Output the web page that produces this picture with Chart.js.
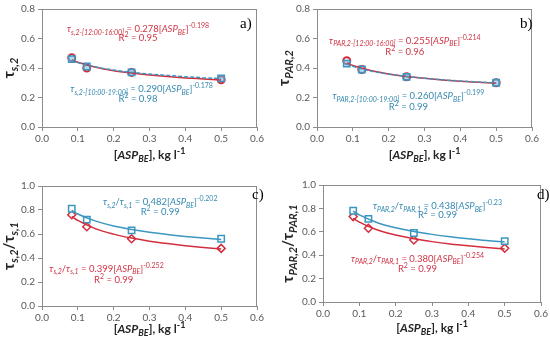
<!DOCTYPE html>
<html>
<head>
<meta charset="utf-8">
<script src="https://cdn.jsdelivr.net/npm/chart.js@4.4.0/dist/chart.umd.min.js"></script>
<style>
  body { margin: 0; background: #fff; }
  #wrap { position: relative; width: 550px; height: 339px; }
  .pane { position: absolute; }
</style>
</head>
<body>
<div id="wrap">
  <div class="pane" style="left:0;top:0;width:275px;height:170px"><canvas id="chA"></canvas></div>
  <div class="pane" style="left:275px;top:0;width:275px;height:170px"><canvas id="chB"></canvas></div>
  <div class="pane" style="left:0;top:170px;width:275px;height:169px"><canvas id="chC"></canvas></div>
  <div class="pane" style="left:275px;top:170px;width:275px;height:169px"><canvas id="chD"></canvas></div>
</div>
<script>
// measured points, ASP_BE in kg/l
var aspBE = [0.083, 0.125, 0.25, 0.5];
var aBlue = [0.46, 0.41, 0.37, 0.33];
var aRed = [0.47, 0.40, 0.37, 0.32];
var bBlue = [0.43, 0.39, 0.34, 0.30];
var bRed = [0.45, 0.39, 0.34, 0.30];
var cBlue = [0.81, 0.72, 0.63, 0.56];
var cRed = [0.76, 0.66, 0.56, 0.48];
var dBlue = [0.78, 0.71, 0.59, 0.52];
var dRed = [0.73, 0.63, 0.53, 0.46];

// fitted curves
var fitX = [0.083, 0.1, 0.15, 0.2, 0.25, 0.3, 0.35, 0.4, 0.45, 0.5];
var aRedFit = [0.455, 0.439, 0.405, 0.382, 0.366, 0.353, 0.342, 0.333, 0.326, 0.319];
var aBlueFit = [0.452, 0.437, 0.407, 0.386, 0.371, 0.359, 0.350, 0.341, 0.334, 0.328];
var bRedFit = [0.434, 0.417, 0.383, 0.360, 0.343, 0.330, 0.319, 0.310, 0.303, 0.296];
var bBlueFit = [0.427, 0.411, 0.379, 0.358, 0.343, 0.330, 0.320, 0.312, 0.305, 0.298];
var cBlueFit = [0.797, 0.767, 0.707, 0.667, 0.638, 0.615, 0.596, 0.580, 0.566, 0.554];
var cRedFit = [0.747, 0.713, 0.643, 0.599, 0.566, 0.540, 0.520, 0.503, 0.488, 0.475];
var dBlueFit = [0.776, 0.744, 0.678, 0.634, 0.602, 0.578, 0.558, 0.541, 0.526, 0.514];
var dRedFit = [0.715, 0.682, 0.615, 0.572, 0.540, 0.516, 0.496, 0.480, 0.466, 0.453];

var xTicks = [0, 0.1, 0.2, 0.3, 0.4, 0.5, 0.6];

var RED = '#d22e3e';
var BLUE = '#3b96c0';
var RED_TXT = '#cf3444';
var BLUE_TXT = '#3589b0';
var FONT = 'Lato, "Open Sans", sans-serif';

function pts(xs, ys) {
    return xs.map(function(x, i) { return { x: x, y: ys[i] }; });
}

// pieces of text: [text, kind]; kind = n / i / b / bi, with sub or sup at the end
function partFont(kind, size, weight) {
    var s = size;
    if (kind.indexOf('sub') >= 0 || kind.indexOf('sup') >= 0) s = Math.round(size * 0.72);
    var it = /^b?i/.test(kind) ? 'italic ' : '';
    return it + weight + ' ' + s + 'px ' + FONT;
}

function richWidth(ctx, parts, size, weight) {
    var w = 0;
    parts.forEach(function(p) {
        ctx.font = partFont(p[1], size, weight);
        w += ctx.measureText(p[0]).width;
    });
    return w;
}

function drawRich(ctx, parts, x, y, size, weight, color) {
    var w = richWidth(ctx, parts, size, weight);
    var cx = x - w / 2;
    ctx.fillStyle = color;
    ctx.textBaseline = 'alphabetic';
    ctx.textAlign = 'left';
    parts.forEach(function(p) {
        ctx.font = partFont(p[1], size, weight);
        var dy = 0;
        if (p[1].indexOf('sub') >= 0) dy = size * 0.28;
        if (p[1].indexOf('sup') >= 0) dy = -size * 0.42;
        ctx.fillText(p[0], cx, y + dy);
        cx += ctx.measureText(p[0]).width;
    });
}

var richPlugin = {
    id: 'rich',
    afterDraw: function(chart) {
        var o = chart.options.plugins.rich;
        var ctx = chart.ctx;
        var a = chart.chartArea;
        var sx = chart.scales.x, sy = chart.scales.y;
        ctx.save();
        // box around the plot
        ctx.strokeStyle = '#8c8c8c';
        ctx.lineWidth = 1;
        ctx.strokeRect(Math.round(a.left) + 0.5, Math.round(a.top) + 0.5, Math.round(a.right - a.left) - 1, Math.round(a.bottom - a.top));
        // equations
        o.notes.forEach(function(n) {
            drawRich(ctx, n.parts, sx.getPixelForValue(n.x), sy.getPixelForValue(n.y), 9.5, 'normal', n.color);
        });
        // x title
        var xt = [['[', 'n'], ['ASP', 'i'], ['BE', 'isub'], ['], kg l', 'n'], ['-1', 'sup']];
        drawRich(ctx, xt, (a.left + a.right) / 2, o.xTitleY, 12, 'bold', '#262626');
        // y title rotated
        ctx.save();
        ctx.translate(o.yTitleX, (a.top + a.bottom) / 2);
        ctx.rotate(-Math.PI / 2);
        drawRich(ctx, o.yTitle, 0, 0, 15, 'bold', '#262626');
        ctx.restore();
        // panel letter
        ctx.font = '15px "Liberation Serif", serif';
        ctx.fillStyle = '#000';
        ctx.textAlign = 'left';
        ctx.textBaseline = 'middle';
        ctx.fillText(o.letter, o.letterX, o.letterY);
        ctx.restore();
    }
};

function makePanel(id, opt) {
    var redStyle = opt.redMarker;
    new Chart(document.getElementById(id), {
        type: 'scatter',
        plugins: [richPlugin],
        data: {
            datasets: [{
                data: pts(fitX, opt.blueFit),
                showLine: true,
                borderColor: BLUE,
                borderWidth: 1.5,
                borderDash: opt.blueDash,
                pointRadius: 0,
                tension: 0.4,
                cubicInterpolationMode: 'monotone'
            }, {
                data: pts(fitX, opt.redFit),
                showLine: true,
                borderColor: RED,
                borderWidth: 1.5,
                pointRadius: 0,
                tension: 0.4,
                cubicInterpolationMode: 'monotone'
            }, {
                data: pts(aspBE, opt.blue),
                pointStyle: 'rect',
                pointRadius: 4.5,
                pointBorderWidth: 1.5,
                borderColor: BLUE,
                backgroundColor: opt.blueFill
            }, {
                data: pts(aspBE, opt.red),
                pointStyle: redStyle,
                pointRadius: redStyle === 'circle' ? 3.5 : 4,
                pointBorderWidth: redStyle === 'circle' ? 2 : 1.5,
                borderColor: RED,
                backgroundColor: 'rgba(255,255,255,0.9)'
            }]
        },
        options: {
            responsive: true,
            maintainAspectRatio: false,
            animation: false,
            events: [],
            layout: { padding: { top: opt.padTop, right: opt.padRight } },
            plugins: {
                legend: { display: false },
                tooltip: { enabled: false },
                rich: opt
            },
            scales: {
                x: {
                    type: 'linear',
                    min: 0,
                    max: 0.6,
                    afterBuildTicks: function(s) {
                        s.ticks = xTicks.map(function(v) { return { value: v }; });
                    },
                    afterFit: function(s) { s.height = opt.xHeight; },
                    grid: { drawOnChartArea: false, drawTicks: true, tickLength: 4, color: '#8c8c8c' },
                    border: { display: true, color: '#8c8c8c' },
                    ticks: {
                        color: '#595959',
                        font: { family: FONT, size: 10 },
                        padding: 2,
                        maxRotation: 0,
                        callback: function(v) { return Number(v).toFixed(1); }
                    }
                },
                y: {
                    min: 0,
                    max: opt.yMax,
                    afterFit: function(s) { s.width = opt.yWidth; },
                    grid: { drawOnChartArea: false, drawTicks: true, tickLength: 4, color: '#8c8c8c' },
                    border: { display: true, color: '#8c8c8c' },
                    ticks: {
                        stepSize: 0.2,
                        color: '#595959',
                        font: { family: FONT, size: 10 },
                        padding: 3,
                        callback: function(v) { return Number(v).toFixed(1); }
                    }
                }
            }
        }
    });
}

makePanel('chA', {
    blue: aBlue, red: aRed, blueFit: aBlueFit, redFit: aRedFit,
    redMarker: 'circle', blueDash: [4, 2], blueFill: 'rgba(120,190,225,0.55)',
    yMax: 0.8, yWidth: 42, xHeight: 43, padTop: 7, padRight: 18,
    xTitleY: 159, yTitleX: 14, letter: 'a)', letterX: 240, letterY: 24,
    yTitle: [['τ', 'b'], ['s,2', 'bisub']],
    notes: [
        { x: 0.268, y: 0.645, color: RED_TXT, parts: [['τ', 'i'], ['s,2-[12:00-16:00]', 'isub'], [' = 0.278[', 'n'], ['ASP', 'i'], ['BE', 'isub'], [']', 'n'], ['-0.198', 'sup']] },
        { x: 0.268, y: 0.585, color: RED_TXT, parts: [['R', 'n'], ['2', 'sup'], [' = 0.95', 'n']] },
        { x: 0.278, y: 0.235, color: BLUE_TXT, parts: [['τ', 'i'], ['s,2-[10:00-19:00]', 'isub'], [' = 0.290[', 'n'], ['ASP', 'i'], ['BE', 'isub'], [']', 'n'], ['-0.178', 'sup']] },
        { x: 0.268, y: 0.17, color: BLUE_TXT, parts: [['R', 'n'], ['2', 'sup'], [' = 0.98', 'n']] }
    ]
});

makePanel('chB', {
    blue: bBlue, red: bRed, blueFit: bBlueFit, redFit: bRedFit,
    redMarker: 'circle', blueDash: [4, 2], blueFill: 'rgba(120,190,225,0.55)',
    yMax: 0.8, yWidth: 42, xHeight: 43, padTop: 7, padRight: 18,
    xTitleY: 159, yTitleX: 14, letter: 'b)', letterX: 245, letterY: 24,
    yTitle: [['τ', 'b'], ['PAR,2', 'bisub']],
    notes: [
        { x: 0.245, y: 0.565, color: RED_TXT, parts: [['τ', 'i'], ['PAR,2-[12:00-16:00]', 'isub'], [' = 0.255[', 'n'], ['ASP', 'i'], ['BE', 'isub'], [']', 'n'], ['-0.214', 'sup']] },
        { x: 0.245, y: 0.49, color: RED_TXT, parts: [['R', 'n'], ['2', 'sup'], [' = 0.96', 'n']] },
        { x: 0.255, y: 0.19, color: BLUE_TXT, parts: [['τ', 'i'], ['PAR,2-[10:00-19:00]', 'isub'], [' = 0.260[', 'n'], ['ASP', 'i'], ['BE', 'isub'], [']', 'n'], ['-0.199', 'sup']] },
        { x: 0.255, y: 0.115, color: BLUE_TXT, parts: [['R', 'n'], ['2', 'sup'], [' = 0.99', 'n']] }
    ]
});

makePanel('chC', {
    blue: cBlue, red: cRed, blueFit: cBlueFit, redFit: cRedFit,
    redMarker: 'rectRot', blueDash: [], blueFill: 'rgba(255,255,255,0.9)',
    yMax: 1.0, yWidth: 42, xHeight: 33, padTop: 16, padRight: 18,
    xTitleY: 163, yTitleX: 14, letter: 'c)', letterX: 252, letterY: 25,
    yTitle: [['τ', 'b'], ['s,2', 'bisub'], ['/τ', 'b'], ['s,1', 'bisub']],
    notes: [
        { x: 0.33, y: 0.84, color: BLUE_TXT, parts: [['τ', 'i'], ['s,2', 'isub'], ['/', 'n'], ['τ', 'i'], ['s,1', 'isub'], [' = 0.482[', 'n'], ['ASP', 'i'], ['BE', 'isub'], [']', 'n'], ['-0.202', 'sup']] },
        { x: 0.33, y: 0.755, color: BLUE_TXT, parts: [['R', 'n'], ['2', 'sup'], [' = 0.99', 'n']] },
        { x: 0.18, y: 0.285, color: RED_TXT, parts: [['τ', 'i'], ['s,2', 'isub'], ['/', 'n'], ['τ', 'i'], ['s,1', 'isub'], [' = 0.399[', 'n'], ['ASP', 'i'], ['BE', 'isub'], [']', 'n'], ['-0.252', 'sup']] },
        { x: 0.2, y: 0.195, color: RED_TXT, parts: [['R', 'n'], ['2', 'sup'], [' = 0.99', 'n']] }
    ]
});

makePanel('chD', {
    blue: dBlue, red: dRed, blueFit: dBlueFit, redFit: dRedFit,
    redMarker: 'rectRot', blueDash: [], blueFill: 'rgba(255,255,255,0.9)',
    yMax: 1.0, yWidth: 48, xHeight: 37, padTop: 15, padRight: 8,
    xTitleY: 162, yTitleX: 18, letter: 'd)', letterX: 262, letterY: 25,
    yTitle: [['τ', 'b'], ['PAR,2', 'bisub'], ['/τ', 'b'], ['PAR,1', 'bisub']],
    notes: [
        { x: 0.315, y: 0.795, color: BLUE_TXT, parts: [['τ', 'i'], ['PAR,2', 'isub'], ['/', 'n'], ['τ', 'i'], ['PAR,1', 'isub'], [' = 0.438[', 'n'], ['ASP', 'i'], ['BE', 'isub'], [']', 'n'], ['-0.23', 'sup']] },
        { x: 0.315, y: 0.715, color: BLUE_TXT, parts: [['R', 'n'], ['2', 'sup'], [' = 0.99', 'n']] },
        { x: 0.26, y: 0.345, color: RED_TXT, parts: [['τ', 'i'], ['PAR,2', 'isub'], ['/', 'n'], ['τ', 'i'], ['PAR,1', 'isub'], [' = 0.380[', 'n'], ['ASP', 'i'], ['BE', 'isub'], [']', 'n'], ['-0.254', 'sup']] },
        { x: 0.26, y: 0.26, color: RED_TXT, parts: [['R', 'n'], ['2', 'sup'], [' = 0.99', 'n']] }
    ]
});
</script>
</body>
</html>
